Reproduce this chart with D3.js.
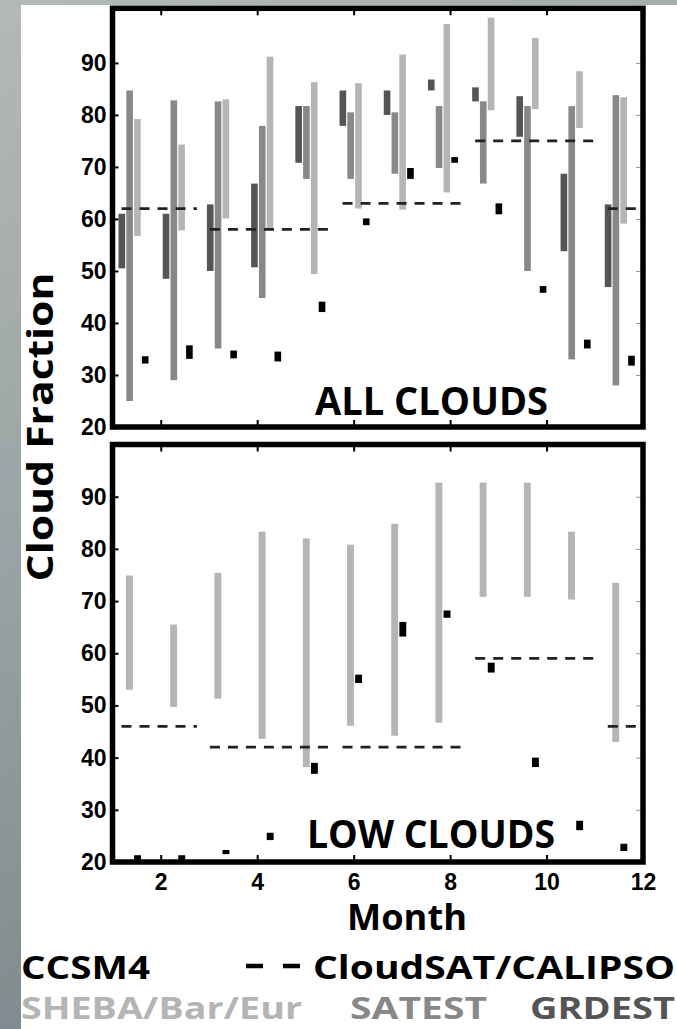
<!DOCTYPE html>
<html>
<head>
  <meta charset="UTF-8">
  <style>
    body { margin: 0; }
    svg { display: block; }
  </style>
</head>
<body>
<svg></svg>

<script src="https://d3js.org/d3.v7.min.js"></script>
<script>

// months and cloud fraction ranges (%)
const months = [1, 2, 3, 4, 5, 6, 7, 8, 9, 10, 11, 12];
const monthTicks = [2, 4, 6, 8, 10, 12];
const fracTicks = [20, 30, 40, 50, 60, 70, 80, 90];

// ALL CLOUDS panel
const grdestAllLo = [50.5, 48.5, 50, 50.7, 70.8, 77.9, 80, 84.7, 82.6, 75.8, 53.8, 46.9];
const grdestAllHi = [61, 61, 62.8, 66.8, 81.7, 84.7, 84.7, 86.8, 85.3, 83.6, 68.7, 62.8];
const satestAllLo = [25, 29, 35.1, 44.8, 67.7, 67.7, 68.7, 69.8, 66.8, 50, 33, 28];
const satestAllHi = [84.7, 82.8, 82.6, 77.9, 81.7, 80.5, 80.5, 81.7, 82.6, 81.7, 81.7, 83.8];
const shebaAllLo = [56.7, 57.8, 60.1, 58.2, 49.4, 62, 61.8, 65.1, 80.9, 81.1, 77.5, 59.1];
const shebaAllHi = [79.2, 74.3, 83, 91.2, 86.3, 86.1, 91.6, 97.5, 98.7, 94.8, 88.4, 83.4];
const ccsmAllLo = [32.2, 33.1, 33.2, 32.6, 42.1, 58.8, 67.7, 70.8, 60.9, 45.8, 35.1, 31.8];
const ccsmAllHi = [33.6, 35.7, 34.7, 34.5, 44.1, 60.1, 69.8, 71.9, 63, 47.1, 36.8, 33.7];

// LOW CLOUDS panel
const shebaLowLo = [53, 49.7, 51.3, 43.6, 38.2, 46.1, 44.2, 46.7, 70.8, 70.8, 70.3, 43];
const shebaLowHi = [74.9, 65.5, 75.4, 83.3, 82, 80.8, 84.8, 92.7, 92.7, 92.7, 83.3, 73.5];
const ccsmLowLo = [20.3, 20.3, 21.5, 24.2, 36.9, 54.3, 63.2, 66.8, 56.3, 38.2, 26.1, 22.1];
const ccsmLowHi = [21.3, 21.3, 22.3, 25.6, 39, 55.9, 66, 68.2, 58.2, 40, 27.9, 23.5];

// CloudSAT/CALIPSO seasonal means (DJF split over the year end)
const satSegStart = [1, 3, 6, 9, 12];
const satSegEnd = [2, 5, 8, 11, 12];
const satAll = [62, 58, 63, 75, 62];
const satLow = [46, 42, 42, 59, 46];

const W = 677, H = 1029;
let svg = d3.select("svg").attr("width", W).attr("height", H);

// cloudy grey backdrop + white page
let defs = svg.append("defs");
let bg = defs.append("linearGradient").attr("id", "sky")
    .attr("x1", "0%").attr("y1", "0%").attr("x2", "30%").attr("y2", "100%");
bg.append("stop").attr("offset", "0%").attr("stop-color", "#b4b9b6");
bg.append("stop").attr("offset", "50%").attr("stop-color", "#99a3a3");
bg.append("stop").attr("offset", "100%").attr("stop-color", "#7c878c");
svg.append("rect").attr("width", W).attr("height", H).attr("fill", "url(#sky)");
svg.append("rect").attr("x", 21).attr("y", 5).attr("width", W - 21).attr("height", H - 5).attr("fill", "white");

let x = d3.scaleLinear().domain([1, 12]).range([112.5, 643]);
let band = d3.scaleBand().domain(months).range([x(1), x(12)]);

let yTop = d3.scaleLinear().domain([20, 100.5]).range([427, 8.3]);
let yBot = d3.scaleLinear().domain([20, 100]).range([862, 444.5]);

let subAll = d3.scaleBand().domain(["GRDEST", "SATEST", "SHEBA", "CCSM4"]).range([6, 36]).paddingInner(0.15);
let subLow = d3.scaleBand().domain(["SHEBA", "CCSM4"]).range([13.5, 28.5]).paddingInner(0.15);

const colors = {GRDEST: "#555555", SATEST: "#888888", SHEBA: "#b5b5b5", CCSM4: "#000000"};

function drawBars(g, y, sub, name, lo, hi) {
    g.append("g")
        .selectAll("rect")
        .data(months)
        .enter()
        .append("rect")
        .attr("x", (m) => band(m) + sub(name))
        .attr("width", sub.bandwidth())
        .attr("y", (m, i) => y(hi[i]))
        .attr("height", (m, i) => Math.max(y(lo[i]) - y(hi[i]), 3))
        .attr("fill", colors[name]);
}

function drawSat(g, y, vals) {
    g.append("g")
        .selectAll("line")
        .data(vals)
        .enter()
        .append("line")
        .attr("x1", (v, i) => band(satSegStart[i]) + 9)
        .attr("x2", (v, i) => band(satSegEnd[i]) + band.bandwidth() - 4)
        .attr("y1", (v) => y(v))
        .attr("y2", (v) => y(v))
        .attr("stroke", "#222")
        .attr("stroke-width", 2.8)
        .attr("stroke-dasharray", "10,8");
}

function drawFrame(g, y, showX) {
    // inward ticks on all four sides
    let left = g.append("g").attr("transform", "translate(" + x(1) + ",0)")
        .call(d3.axisLeft(y).tickValues(fracTicks).tickSize(-6).tickPadding(6));
    left.select(".domain").remove();
    left.selectAll("line").attr("stroke", "black").attr("stroke-width", 2);
    left.selectAll("text")
        .attr("font-family", "'Liberation Sans', Arial, sans-serif")
        .attr("font-weight", "bold")
        .attr("font-size", 23)
        .attr("fill", "black");

    let right = g.append("g").attr("transform", "translate(" + x(12) + ",0)")
        .call(d3.axisRight(y).tickValues(fracTicks.slice(1)).tickSize(-7).tickFormat(""));
    right.select(".domain").remove();
    right.selectAll("line").attr("stroke", "#999").attr("stroke-width", 1);

    let top = g.append("g").attr("transform", "translate(0," + y.range()[1] + ")")
        .call(d3.axisTop(x).tickValues(monthTicks).tickSize(-7).tickFormat(""));
    top.select(".domain").remove();
    top.selectAll("line").attr("stroke", "black").attr("stroke-width", 2);

    let bottom = g.append("g").attr("transform", "translate(0," + y.range()[0] + ")")
        .call(d3.axisBottom(x).tickValues(monthTicks).tickSize(-7).tickPadding(12));
    bottom.select(".domain").remove();
    bottom.selectAll("line").attr("stroke", "black").attr("stroke-width", 2);
    if (showX) {
        bottom.selectAll("text")
            .attr("font-family", "'Liberation Sans', Arial, sans-serif")
            .attr("font-weight", "bold")
            .attr("font-size", 23)
            .attr("fill", "black");
    } else {
        bottom.selectAll("text").remove();
    }

    g.append("rect")
        .attr("x", x(1))
        .attr("y", y.range()[1])
        .attr("width", x(12) - x(1))
        .attr("height", y.range()[0] - y.range()[1])
        .attr("fill", "none")
        .attr("stroke", "black")
        .attr("stroke-width", 5.5);
}

function panelLabel(g, txt, px, py, len) {
    g.append("text")
        .attr("x", px)
        .attr("y", py)
        .attr("font-family", "'Open Sans', sans-serif")
        .attr("font-weight", 700)
        .attr("font-size", 39)
        .attr("textLength", len)
        .attr("lengthAdjust", "spacingAndGlyphs")
        .text(txt);
}

// --- top panel: ALL CLOUDS
let gAll = svg.append("g");
drawBars(gAll, yTop, subAll, "GRDEST", grdestAllLo, grdestAllHi);
drawBars(gAll, yTop, subAll, "SATEST", satestAllLo, satestAllHi);
drawBars(gAll, yTop, subAll, "SHEBA", shebaAllLo, shebaAllHi);
drawSat(gAll, yTop, satAll);
drawBars(gAll, yTop, subAll, "CCSM4", ccsmAllLo, ccsmAllHi);
panelLabel(gAll, "ALL CLOUDS", 315, 415, 233);
drawFrame(gAll, yTop, false);

// --- bottom panel: LOW CLOUDS
let gLow = svg.append("g");
drawBars(gLow, yBot, subLow, "SHEBA", shebaLowLo, shebaLowHi);
drawSat(gLow, yBot, satLow);
drawBars(gLow, yBot, subLow, "CCSM4", ccsmLowLo, ccsmLowHi);
panelLabel(gLow, "LOW CLOUDS", 307, 848, 248);
drawFrame(gLow, yBot, true);

// axis titles
svg.append("text")
    .attr("transform", "translate(53,427) rotate(-90)")
    .attr("text-anchor", "middle")
    .attr("font-family", "'Open Sans', sans-serif")
    .attr("font-weight", 700)
    .attr("font-size", 36)
    .attr("textLength", 309)
    .attr("lengthAdjust", "spacingAndGlyphs")
    .text("Cloud Fraction");

svg.append("text")
    .attr("x", 347)
    .attr("y", 930)
    .attr("font-family", "'Open Sans', sans-serif")
    .attr("font-weight", 700)
    .attr("font-size", 35)
    .attr("textLength", 120)
    .attr("lengthAdjust", "spacingAndGlyphs")
    .text("Month");

// legend
let legend = [
    {t: "CCSM4", x: 21, y: 979, size: 32, len: 129, c: "#000000"},
    {t: "CloudSAT/CALIPSO", x: 313, y: 979, size: 32, len: 362, c: "#000000"},
    {t: "SHEBA/Bar/Eur", x: 21, y: 1019, size: 31, len: 281, c: colors.SHEBA},
    {t: "SATEST", x: 350, y: 1019, size: 31, len: 137, c: colors.SATEST},
    {t: "GRDEST", x: 530, y: 1019, size: 31, len: 145, c: colors.GRDEST}
];
svg.append("g")
    .selectAll("text")
    .data(legend)
    .enter()
    .append("text")
    .attr("x", d => d.x)
    .attr("y", d => d.y)
    .attr("fill", d => d.c)
    .attr("font-family", "'Open Sans', sans-serif")
    .attr("font-weight", 700)
    .attr("font-size", d => d.size)
    .attr("textLength", d => d.len)
    .attr("lengthAdjust", "spacingAndGlyphs")
    .text(d => d.t);

// the "- -" dash sample in front of CloudSAT/CALIPSO
svg.append("line")
    .attr("x1", 246).attr("x2", 302)
    .attr("y1", 966).attr("y2", 966)
    .attr("stroke", "black")
    .attr("stroke-width", 4.5)
    .attr("stroke-dasharray", "17,20");

</script>

</body>
</html>
